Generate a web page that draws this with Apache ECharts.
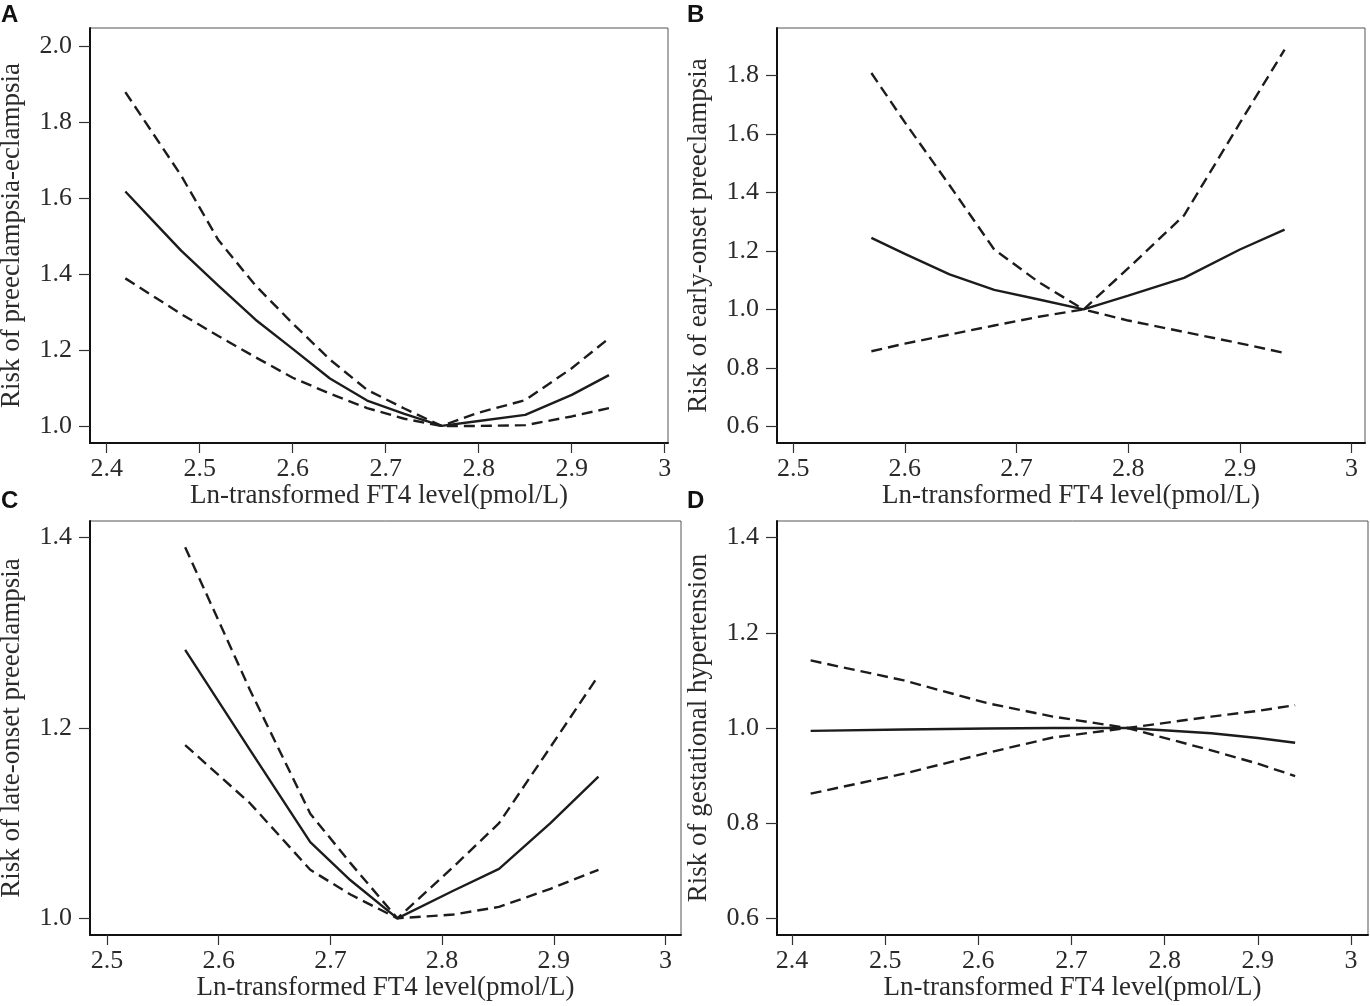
<!DOCTYPE html>
<html>
<head>
<meta charset="utf-8">
<script src="https://cdn.jsdelivr.net/npm/echarts@6/dist/echarts.min.js"></script>
<style>
html,body{margin:0;padding:0;background:#fff;}
#chart{width:1370px;height:1006px;}
</style>
</head>
<body>
<div id="chart"></div>
<script>
// ---------- Data ----------
const xTicksA = [2.4, 2.5, 2.6, 2.7, 2.8, 2.9, 3];
const yTicksA = [1.0, 1.2, 1.4, 1.6, 1.8, 2.0];
const xA   = [2.42, 2.45, 2.48, 2.52, 2.56, 2.60, 2.64, 2.68, 2.72, 2.76, 2.80, 2.85, 2.90, 2.94];
const estA = [1.618, 1.540, 1.462, 1.370, 1.280, 1.203, 1.125, 1.067, 1.032, 1.000, 1.013, 1.029, 1.082, 1.134];
const upA  = [1.880, 1.770, 1.660, 1.490, 1.370, 1.270, 1.175, 1.095, 1.046, 1.000, 1.035, 1.068, 1.152, 1.231];
const loA  = [1.389, 1.342, 1.295, 1.237, 1.181, 1.127, 1.085, 1.047, 1.019, 1.000, 1.000, 1.002, 1.025, 1.047];

const xTicksB = [2.5, 2.6, 2.7, 2.8, 2.9, 3];
const yTicksB = [0.6, 0.8, 1.0, 1.2, 1.4, 1.6, 1.8];
const xB   = [2.57, 2.60, 2.64, 2.68, 2.72, 2.76, 2.80, 2.85, 2.90, 2.94];
const estB = [1.245, 1.190, 1.120, 1.067, 1.034, 1.000, 1.047, 1.108, 1.205, 1.273];
const upB  = [1.809, 1.640, 1.425, 1.205, 1.093, 1.000, 1.141, 1.322, 1.638, 1.889];
const loB  = [0.857, 0.883, 0.914, 0.945, 0.975, 1.000, 0.962, 0.923, 0.884, 0.851];

const xTicksC = [2.5, 2.6, 2.7, 2.8, 2.9, 3];
const yTicksC = [1.0, 1.2, 1.4];
const xC   = [2.57, 2.628, 2.682, 2.718, 2.76, 2.81, 2.851, 2.897, 2.94];
const estC = [1.282, 1.177, 1.080, 1.040, 1.000, 1.029, 1.052, 1.100, 1.149];
const upC  = [1.390, 1.240, 1.110, 1.058, 1.000, 1.054, 1.100, 1.180, 1.255];
const loC  = [1.182, 1.121, 1.051, 1.025, 1.000, 1.004, 1.012, 1.031, 1.051];

const xTicksD = [2.4, 2.5, 2.6, 2.7, 2.8, 2.9, 3];
const yTicksD = [0.6, 0.8, 1.0, 1.2, 1.4];
const xD   = [2.42, 2.52, 2.61, 2.68, 2.76, 2.85, 2.90, 2.94];
const estD = [0.994, 0.997, 0.999, 1.000, 1.000, 0.989, 0.979, 0.969];
const upD  = [1.142, 1.100, 1.052, 1.024, 1.000, 1.024, 1.036, 1.048];
const loD  = [0.862, 0.904, 0.948, 0.980, 1.000, 0.953, 0.925, 0.899];

const xTitle = 'Ln-transformed FT4 level(pmol/L)';
const yTitles = ['Risk of preeclampsia-eclampsia', 'Risk of early-onset preeclampsia',
                 'Risk of late-onset preeclampsia', 'Risk of gestational hypertension'];
const panelLetters = ['A', 'B', 'C', 'D'];

// ---------- Layout ----------
const grids = [
  {left: 90,  top: 28,  width: 578, height: 415},
  {left: 777, top: 28,  width: 588, height: 415},
  {left: 90,  top: 521, width: 591, height: 414},
  {left: 777, top: 521, width: 591, height: 414}
];
const xRanges = [[2.382, 3.0035], [2.4855, 3.012], [2.4848, 3.0139], [2.3839, 3.0182]];
const yRanges = [[0.955, 2.049], [0.543, 1.963], [0.9825, 1.4175], [0.565, 1.435]];
const letterPos = [[1, 3], [687, 3], [1, 489], [687, 489]];

const panels = [
  {x: xA, est: estA, up: upA, lo: loA, xt: xTicksA, yt: yTicksA},
  {x: xB, est: estB, up: upB, lo: loB, xt: xTicksB, yt: yTicksB},
  {x: xC, est: estC, up: upC, lo: loC, xt: xTicksC, yt: yTicksC},
  {x: xD, est: estD, up: upD, lo: loD, xt: xTicksD, yt: yTicksD}
];

const FONT = 'Liberation Serif';
const TXT = '#2a2a2a';
const LINE = '#1c1c1c';

const option = {
  backgroundColor: '#fff',
  animation: false,
  grid: grids.map(g => Object.assign({show: true, borderColor: '#555', borderWidth: 1,
    containLabel: false, outerBoundsMode: 'none', backgroundColor: 'transparent'}, g)),
  xAxis: panels.map((p, i) => ({
    type: 'value', gridIndex: i, min: xRanges[i][0], max: xRanges[i][1],
    name: xTitle, nameLocation: 'middle', nameGap: 39,
    nameTextStyle: {fontFamily: FONT, fontSize: 27, color: TXT},
    axisLine: {show: true, onZero: false, lineStyle: {color: '#111', width: 2}},
    axisTick: {show: true, length: 10, lineStyle: {color: '#333', width: 1.2}, customValues: p.xt},
    axisLabel: {show: true, margin: 13, fontFamily: FONT, fontSize: 26, color: TXT,
      customValues: p.xt, formatter: v => String(Math.round(v * 10) / 10)},
    splitLine: {show: false}
  })),
  yAxis: panels.map((p, i) => ({
    type: 'value', gridIndex: i, min: yRanges[i][0], max: yRanges[i][1],
    name: yTitles[i], nameLocation: 'middle', nameGap: 65, nameRotate: 90,
    nameTextStyle: {fontFamily: FONT, fontSize: 27, color: TXT},
    axisLine: {show: true, onZero: false, lineStyle: {color: '#111', width: 2}},
    axisTick: {show: true, length: 11, lineStyle: {color: '#333', width: 1.2}, customValues: p.yt},
    axisLabel: {show: true, margin: 18, fontFamily: FONT, fontSize: 26, color: TXT,
      customValues: p.yt, formatter: v => v.toFixed(1)},
    splitLine: {show: false}
  })),
  series: [],
  graphic: panelLetters.map((t, i) => ({
    type: 'text', left: letterPos[i][0], top: letterPos[i][1],
    style: {text: t, font: 'bold 24px "Liberation Sans", Arial, sans-serif', fill: '#111'}
  }))
};

panels.forEach((p, i) => {
  const mk = (ys, dashed) => ({
    type: 'line', xAxisIndex: i, yAxisIndex: i, showSymbol: false, symbol: 'none',
    data: p.x.map((x, k) => [x, ys[k]]),
    lineStyle: {color: LINE, width: 2.4, type: dashed ? [11, 6] : 'solid'},
    silent: true
  });
  option.series.push(mk(p.up, true), mk(p.est, false), mk(p.lo, true));
});

const chart = echarts.init(document.getElementById('chart'), null, {renderer: 'canvas'});
chart.setOption(option);
</script>
</body>
</html>
